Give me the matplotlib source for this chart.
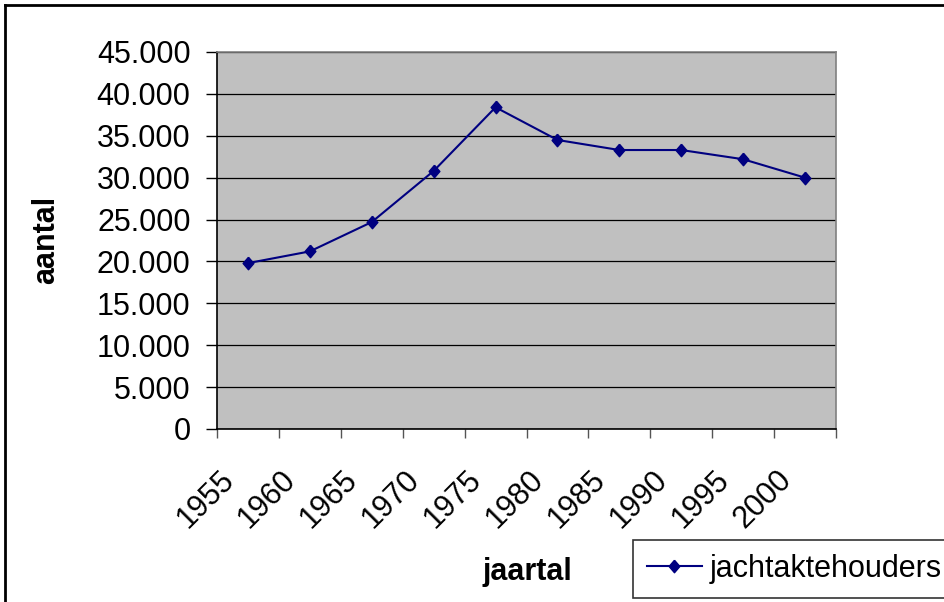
import matplotlib
matplotlib.use('Agg')
import matplotlib.pyplot as plt
from matplotlib.lines import Line2D
from matplotlib.ticker import FuncFormatter
from matplotlib.transforms import ScaledTranslation

# --- data ---
years = ['1955', '1960', '1965', '1970', '1975', '1980', '1985', '1990', '1995', '2000']
holders = [19800, 21200, 24700, 30800, 38400, 34500, 33300, 33300, 32200, 30000]
series_name = 'jachtaktehouders'

plt.rcParams['font.family'] = ['Liberation Sans', 'DejaVu Sans']
W, H = 944, 602
NAVY = '#000080'
diamond = [(0, 1), (0.86, 0), (0, -1), (-0.86, 0), (0, 1)]

fig = plt.figure(figsize=(W / 100, H / 100), dpi=100)
ax = fig.add_axes([217 / W, 1 - 429 / H, (836 - 217) / W, (429 - 52) / H])
ax.set_facecolor('#c0c0c0')

x = list(range(len(years)))
ax.plot(x, holders, color=NAVY, lw=1.5, marker=diamond, ms=9, mfc=NAVY, mec=NAVY,
        label=series_name, zorder=3)

# y axis
ax.set_ylim(0, 45000)
ax.set_yticks(range(0, 45001, 5000))
ax.yaxis.set_major_formatter(FuncFormatter(lambda v, p: f'{int(v):,}'.replace(',', '.')))
ax.grid(axis='y', color='black', lw=0.9)
ax.set_axisbelow(True)

# x axis: ticks on category boundaries, labels at category centres
ax.set_xlim(-0.5, len(years) - 0.5)
ax.set_xticks([i - 0.5 for i in range(len(years) + 1)])
ax.set_xticklabels([])
ax.set_xticks(x, minor=True)
ax.set_xticklabels(years, minor=True, rotation=45, ha='right', va='top',
                   rotation_mode='anchor', fontsize=22)
ax.tick_params(axis='x', which='minor', length=0, pad=12)
ax.tick_params(axis='x', which='major', length=6.5, width=1, color='#555555')
ax.tick_params(axis='y', length=8, width=1, pad=11, labelsize=22)
shift = ScaledTranslation(-0.29, -0.19, fig.dpi_scale_trans)
for lab in ax.get_xticklabels(minor=True):
    lab.set_transform(lab.get_transform() + shift)

for s in ['top', 'right']:
    ax.spines[s].set_color('#808080')
    ax.spines[s].set_linewidth(1.2)
for s in ['left', 'bottom']:
    ax.spines[s].set_color('black')
    ax.spines[s].set_linewidth(1.2)

fig.text(46 / W, 1 - 240 / H, 'aantal', rotation=90, ha='center', va='center',
         fontsize=22, fontweight='bold')
fig.text(527 / W, 1 - 572 / H, 'jaartal', ha='center', va='center',
         fontsize=22, fontweight='bold')

leg = fig.legend(loc='upper left', bbox_to_anchor=(633 / W, 1 - 540 / H),
                 fontsize=22, frameon=True, fancybox=False, edgecolor='black',
                 borderpad=0.45, handlelength=1.8, handletextpad=0.25,
                 borderaxespad=0)
leg.get_frame().set_linewidth(1.2)

# chart area border (top and left visible)
fig.add_artist(Line2D([5 / W, 1.01], [1 - 5 / H, 1 - 5 / H], color='black', lw=2))
fig.add_artist(Line2D([5 / W, 5 / W], [1 - 5 / H, -0.01], color='black', lw=2))

fig.savefig('out.png', dpi=100)
